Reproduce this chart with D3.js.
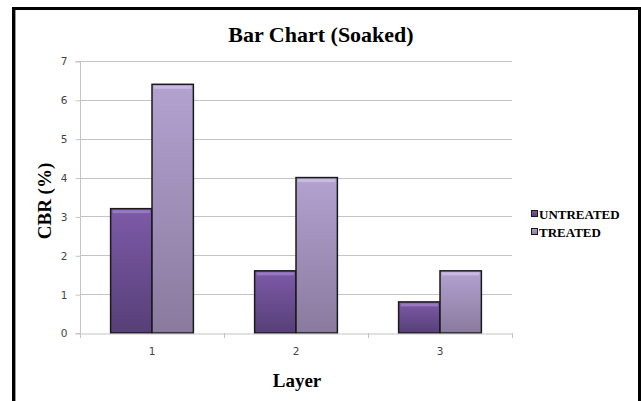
<!DOCTYPE html>
<html>
<head>
<meta charset="utf-8">
<script src="https://cdn.jsdelivr.net/npm/d3@7/dist/d3.min.js"></script>
<style>
  html, body { margin: 0; padding: 0; background: #fff; }
  svg { display: block; }
</style>
</head>
<body>
<svg id="chart" width="641" height="401"></svg>
<script>
// CBR values per layer, soaked condition
const layers = ["1", "2", "3"];
const seriesNames = ["UNTREATED", "TREATED"];
const untreated = [3.2, 1.6, 0.8];
const treated = [6.4, 4.0, 1.6];
const yTicks = [0, 1, 2, 3, 4, 5, 6, 7];

const svg = d3.select("#chart");
const W = 641, H = 401;

// frame around the whole chart
svg.append("rect").attr("x", 0).attr("y", 0).attr("width", W).attr("height", H).attr("fill", "#fff");
svg.append("line").attr("x1", 15.5).attr("x2", 15.5).attr("y1", 10).attr("y2", H).attr("stroke", "#999").attr("stroke-width", 1);
svg.append("path")
  .attr("d", `M13.5,${H} V8.5 H639.5 V${H}`)
  .attr("fill", "none").attr("stroke", "#000").attr("stroke-width", 3);

const plot = { left: 80, right: 512, top: 61, bottom: 333 };

const x = d3.scaleBand().domain(layers).range([plot.left, plot.right]).paddingInner(0).paddingOuter(0);
const xInner = d3.scaleBand().domain(seriesNames).range([0, x.bandwidth()]).paddingInner(0).paddingOuter(0.74);
const y = d3.scaleLinear().domain([0, 7]).range([plot.bottom, plot.top]);

// gradients for the two series
const defs = svg.append("defs");
const grads = [
  { id: "gU", top: "#7d5aa8", bottom: "#573f78" },
  { id: "gT", top: "#b3a1d0", bottom: "#8a7a9e" }
];
grads.forEach(g => {
  const lg = defs.append("linearGradient").attr("id", g.id).attr("x1", 0).attr("x2", 0).attr("y1", 0).attr("y2", 1);
  lg.append("stop").attr("offset", "0%").attr("stop-color", g.top);
  lg.append("stop").attr("offset", "100%").attr("stop-color", g.bottom);
});

// horizontal gridlines
svg.append("g").selectAll("line").data(yTicks.filter(d => d > 0)).join("line")
  .attr("x1", plot.left).attr("x2", plot.right)
  .attr("y1", d => Math.round(y(d)) + 0.5).attr("y2", d => Math.round(y(d)) + 0.5)
  .attr("stroke", "#c4c4c4").attr("stroke-width", 1);

// y axis
const yAxis = d3.axisLeft(y).tickValues(yTicks).tickSize(5).tickPadding(8).tickFormat(d3.format("d"));
const gy = svg.append("g").attr("transform", `translate(${plot.left + 0.5},0.5)`).call(yAxis);
gy.select(".domain").attr("stroke", "#c4c4c4").attr("d", `M-5,${plot.bottom}H0V${plot.top}H-5`);
gy.selectAll(".tick line").attr("stroke", "#c4c4c4");
gy.selectAll(".tick text").attr("fill", "#444").style("font-family", "'DejaVu Sans', sans-serif").style("font-size", "10.5px");

// bars
const seriesData = [untreated, treated];
const bars = svg.append("g");
layers.forEach((lay, i) => {
  seriesNames.forEach((s, j) => {
    const v = seriesData[j][i];
    const bx = x(lay) + xInner(s);
    const bw = xInner.bandwidth();
    const by = y(v);
    const bh = y(0) - y(v);
    bars.append("rect")
      .attr("x", bx).attr("y", by).attr("width", bw).attr("height", bh)
      .attr("fill", `url(#${grads[j].id})`)
      .attr("stroke", "#1a1a1a").attr("stroke-width", 1.5);
    // highlight along the top edge
    bars.append("rect")
      .attr("x", bx + 2).attr("y", by + 1.5).attr("width", bw - 4).attr("height", 3)
      .attr("fill", j === 0 ? "#9a7cc4" : "#cbbde2").attr("opacity", 0.9);
  });
});

// x axis
const xAxis = d3.axisBottom(x).tickSize(0).tickPadding(14);
const gx = svg.append("g").attr("transform", `translate(0,${plot.bottom + 0.5})`).call(xAxis);
gx.select(".domain").attr("stroke", "#c4c4c4");
gx.selectAll(".tick text").attr("fill", "#444").style("font-family", "'DejaVu Sans', sans-serif").style("font-size", "10.5px");
// category boundary ticks
svg.append("g").selectAll("line").data(layers.concat(["end"])).join("line")
  .attr("x1", (d, i) => Math.round(plot.left + i * x.bandwidth()) + 0.5)
  .attr("x2", (d, i) => Math.round(plot.left + i * x.bandwidth()) + 0.5)
  .attr("y1", plot.bottom).attr("y2", plot.bottom + 5)
  .attr("stroke", "#c4c4c4");

// title and axis titles
const serif = "'Liberation Serif', 'Times New Roman', serif";
svg.append("text").attr("x", 321).attr("y", 42).attr("text-anchor", "middle")
  .style("font-family", serif).style("font-weight", "bold").style("font-size", "22px")
  .text("Bar Chart (Soaked)");
svg.append("text").attr("transform", `translate(51,201) rotate(-90)`).attr("text-anchor", "middle")
  .style("font-family", serif).style("font-weight", "bold").style("font-size", "19px")
  .text("CBR (%)");
svg.append("text").attr("x", 297).attr("y", 387).attr("text-anchor", "middle")
  .style("font-family", serif).style("font-weight", "bold").style("font-size", "19px")
  .text("Layer");

// legend
const legend = svg.append("g").attr("transform", "translate(531,215)");
seriesNames.forEach((s, j) => {
  const g = legend.append("g").attr("transform", `translate(0,${j * 18})`);
  g.append("rect").attr("x", 0.5).attr("y", -4.5).attr("width", 6).attr("height", 6)
    .attr("fill", `url(#${grads[j].id})`).attr("stroke", "#1a1a1a").attr("stroke-width", 1);
  g.append("text").attr("x", 8).attr("y", 4)
    .style("font-family", serif).style("font-weight", "bold").style("font-size", "13px")
    .text(s);
});
</script>
</body>
</html>
